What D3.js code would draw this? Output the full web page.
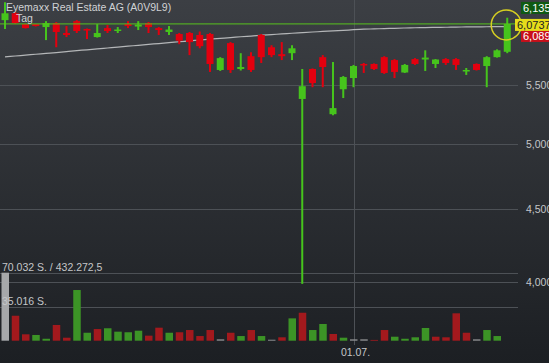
<!DOCTYPE html>
<html>
<head>
<meta charset="utf-8">
<script src="https://cdn.jsdelivr.net/npm/d3@7"></script>
<style>
    body { margin: 0; background: #2a2d31; overflow: hidden; }
    svg text { font-family: "Liberation Sans", Arial, sans-serif; }
</style>
</head>
<body>
<div id="chart"></div>
<script>
// Chart data (daily candles)
var title = "Eyemaxx Real Estate AG (A0V9L9)";
var period = "Tag";
var dates = ["14.05.", "15.05.", "16.05.", "17.05.", "20.05.", "21.05.", "22.05.", "23.05.", "24.05.", "27.05.",
    "28.05.", "29.05.", "30.05.", "31.05.", "03.06.", "04.06.", "05.06.", "06.06.", "07.06.", "10.06.",
    "11.06.", "12.06.", "13.06.", "14.06.", "17.06.", "18.06.", "19.06.", "20.06.", "21.06.", "24.06.",
    "25.06.", "26.06.", "27.06.", "28.06.", "01.07.", "02.07.", "03.07.", "04.07.", "05.07.", "08.07.",
    "09.07.", "10.07.", "11.07.", "12.07.", "15.07.", "16.07.", "17.07.", "18.07.", "19.07.", "22.07."];
var opens = [6.111, 6.179, 6.072, 6.072, 6.043, 6.082, 5.985, 6.101, 6.024, 5.946,
    6.033, 6.009, 6.072, 6.048, 6.082, 6.033, 5.995, 5.975, 5.985, 5.966,
    5.975, 5.638, 5.888, 5.647, 5.765, 5.966, 5.849, 5.784, 5.793, 5.380,
    5.647, 5.756, 5.249, 5.465, 5.565, 5.693, 5.693, 5.756, 5.729, 5.615,
    5.738, 5.734, 5.693, 5.738, 5.738, 5.624, 5.693, 5.674, 5.756, 5.806];
var highs = [6.290, 6.189, 6.077, 6.072, 6.101, 6.092, 6.053, 6.111, 6.029, 6.072,
    6.063, 6.043, 6.101, 6.101, 6.092, 6.043, 6.053, 5.985, 5.995, 6.000,
    5.985, 5.756, 5.898, 5.793, 5.802, 5.975, 5.868, 5.898, 5.868, 5.647,
    5.652, 5.775, 5.711, 5.583, 5.684, 5.702, 5.698, 5.765, 5.738, 5.693,
    5.747, 5.820, 5.738, 5.747, 5.747, 5.656, 5.698, 5.765, 5.829, 6.135];
var lows = [6.024, 6.072, 6.029, 6.048, 5.917, 5.849, 5.946, 5.985, 5.927, 5.941,
    5.985, 5.985, 6.033, 6.014, 5.985, 5.966, 5.966, 5.878, 5.775, 5.839,
    5.620, 5.629, 5.611, 5.633, 5.620, 5.702, 5.756, 5.729, 5.729, 3.990,
    5.483, 5.483, 5.240, 5.388, 5.483, 5.611, 5.638, 5.602, 5.565, 5.611,
    5.684, 5.629, 5.656, 5.684, 5.638, 5.593, 5.633, 5.483, 5.752, 5.793];
var closes = [6.179, 6.082, 6.033, 6.053, 6.082, 5.995, 5.966, 6.004, 6.009, 5.985,
    6.004, 6.019, 6.053, 6.067, 6.043, 6.014, 6.019, 5.912, 5.898, 5.859,
    5.693, 5.747, 5.638, 5.665, 5.638, 5.756, 5.775, 5.765, 5.839, 5.492,
    5.520, 5.665, 5.301, 5.574, 5.674, 5.679, 5.647, 5.611, 5.620, 5.684,
    5.693, 5.752, 5.734, 5.702, 5.684, 5.638, 5.638, 5.756, 5.820, 6.0737];
var avgLine = [5.759, 5.767, 5.775, 5.783, 5.791, 5.799, 5.808, 5.817, 5.825, 5.834,
    5.842, 5.850, 5.859, 5.867, 5.876, 5.884, 5.893, 5.901, 5.910, 5.918,
    5.927, 5.934, 5.941, 5.949, 5.956, 5.963, 5.970, 5.976, 5.983, 5.989,
    5.995, 6.000, 6.006, 6.011, 6.017, 6.022, 6.025, 6.028, 6.031, 6.034,
    6.036, 6.038, 6.040, 6.041, 6.043, 6.044, 6.045, 6.046, 6.047, 6.048];
var volumes = [70032, 25700, 6600, 5900, 2000, 16200, 3100, 52200, 8200, 12000,
    12800, 9300, 8700, 10300, 5200, 13400, 8200, 8700, 11000, 4800,
    11000, 1400, 8200, 4800, 11000, 4800, 1000, 3500, 23000, 28800,
    11000, 17200, 6900, 3100, 1400, 1400, 800, 11000, 4100, 2000,
    3500, 13100, 4100, 3500, 28200, 8200, 1400, 11000, 4800, 0];
// u = up, d = down, n = unchanged
var volTrend = ["n", "d", "d", "u", "u", "d", "d", "u", "u", "d",
    "u", "u", "u", "u", "d", "d", "u", "d", "d", "d",
    "d", "n", "d", "u", "d", "u", "n", "d", "u", "d",
    "u", "u", "d", "u", "n", "n", "d", "d", "u", "u",
    "u", "u", "d", "d", "d", "d", "n", "u", "u", "u"];
var priceTicks = [5.5, 5.0, 4.5, 4.0];
var volTicks = [35016, 70032];
var dateTicks = ["01.07."];
var lastPrice = 6.0737;
var askPrice = 6.135;
var bidPrice = 6.089;
var turnover = "432.272,5";

// chart parameters
var svgWidth = 549;
var svgHeight = 363;

var de = d3.formatLocale({ decimal: ",", thousands: ".", grouping: [3], currency: ["", " €"] });
var fmtPrice = de.format(",.3f");
var fmtVol = de.format(",d");

var svg = d3.select("#chart")
    .append("svg")
    .attr("width", svgWidth)
    .attr("height", svgHeight);

// background gradient
var grad = svg.append("defs").append("linearGradient")
    .attr("id", "bg")
    .attr("x1", 0).attr("y1", 0).attr("x2", 0).attr("y2", 1);
grad.append("stop").attr("offset", "0%").attr("stop-color", "#3c3f44");
grad.append("stop").attr("offset", "100%").attr("stop-color", "#1c1f23");

svg.append("rect")
    .attr("width", svgWidth)
    .attr("height", svgHeight)
    .attr("fill", "url(#bg)");

// Step 1: scales
var xScale = d3.scalePoint()
    .domain(dates)
    .range([5, 507.25]);

var yScale = d3.scaleLog()
    .domain([4, 5.5])
    .range([282.3, 85.3]);

var yVol = d3.scaleLinear()
    .domain([0, 70032])
    .range([340.7, 272.7]);

var gridRight = 518;

// Step 2: grid lines
svg.append("g")
    .selectAll("line")
    .data(priceTicks)
    .enter()
    .append("line")
    .attr("x1", 0)
    .attr("x2", gridRight)
    .attr("y1", d => Math.round(yScale(d)) + 0.5)
    .attr("y2", d => Math.round(yScale(d)) + 0.5)
    .attr("stroke", "#4d5156")
    .attr("stroke-width", 1);

svg.append("g")
    .selectAll("line")
    .data(volTicks)
    .enter()
    .append("line")
    .attr("x1", 0)
    .attr("x2", gridRight)
    .attr("y1", d => Math.round(yVol(d)) + 0.5)
    .attr("y2", d => Math.round(yVol(d)) + 0.5)
    .attr("stroke", "#4d5156")
    .attr("stroke-width", 1);

svg.append("g")
    .selectAll("line")
    .data(dateTicks)
    .enter()
    .append("line")
    .attr("x1", d => Math.round(xScale(d)) + 0.5)
    .attr("x2", d => Math.round(xScale(d)) + 0.5)
    .attr("y1", 0)
    .attr("y2", 345)
    .attr("stroke", "#4d5156")
    .attr("stroke-width", 1);

// Step 3: volume bars
var volColor = { u: "#3c9426", d: "#a3191d", n: "#8e9092" };
svg.append("g")
    .selectAll("rect")
    .data(dates)
    .enter()
    .append("rect")
    .attr("x", d => xScale(d) - 3.5)
    .attr("width", 7.5)
    .attr("y", (d, i) => yVol(volumes[i]))
    .attr("height", (d, i) => yVol(0) - yVol(volumes[i]))
    .attr("fill", (d, i) => (i == 0 ? "#a6a8aa" : volColor[volTrend[i]]));

// Step 4: axis labels (drawn over the bars)
svg.append("g")
    .selectAll("text")
    .data(priceTicks)
    .enter()
    .append("text")
    .attr("x", 526)
    .attr("y", d => yScale(d) + 4)
    .attr("font-size", "10.5px")
    .attr("fill", "#c4c6c8")
    .text(d => fmtPrice(d));

svg.append("text")
    .attr("x", 2)
    .attr("y", yVol(volTicks[1]) - 2)
    .attr("font-size", "10.5px")
    .attr("fill", "#c4c6c8")
    .text(fmtVol(volTicks[1]) + " S. / " + turnover);

svg.append("text")
    .attr("x", 2)
    .attr("y", yVol(volTicks[0]) - 2)
    .attr("font-size", "10.5px")
    .attr("fill", "#c4c6c8")
    .text(fmtVol(volTicks[0]) + " S.");

svg.append("g")
    .selectAll("text")
    .data(dateTicks)
    .enter()
    .append("text")
    .attr("x", d => xScale(d) + 2)
    .attr("y", 356)
    .attr("text-anchor", "middle")
    .attr("font-size", "10.5px")
    .attr("fill", "#c4c6c8")
    .text(d => d);

// Step 5: moving average line
var line = d3.line()
    .x((d, i) => xScale(dates[i]))
    .y(d => yScale(d))
    .curve(d3.curveMonotoneX);

svg.append("path")
    .datum(avgLine)
    .attr("d", line)
    .attr("fill", "none")
    .attr("stroke", "#b4b6b8")
    .attr("stroke-width", 1.2);

// Step 6: candles
var upColor = "#46c41c";
var downColor = "#e3000f";
var candles = svg.append("g")
    .selectAll("g")
    .data(dates)
    .enter()
    .append("g")
    .attr("fill", (d, i) => (closes[i] >= opens[i] ? upColor : downColor));

candles.append("rect")
    .attr("x", d => xScale(d) - 1)
    .attr("width", 2)
    .attr("y", (d, i) => yScale(highs[i]))
    .attr("height", (d, i) => yScale(lows[i]) - yScale(highs[i]));

candles.append("rect")
    .attr("x", d => xScale(d) - 3.5)
    .attr("width", 7)
    .attr("y", (d, i) => yScale(Math.max(opens[i], closes[i])))
    .attr("height", (d, i) => Math.max(1.5, yScale(Math.min(opens[i], closes[i])) - yScale(Math.max(opens[i], closes[i]))));

// Step 7: last price line
svg.append("line")
    .attr("x1", 0)
    .attr("x2", gridRight)
    .attr("y1", yScale(lastPrice))
    .attr("y2", yScale(lastPrice))
    .attr("stroke", "#58c21e")
    .attr("stroke-width", 1);

// highlight of the last candle
svg.append("circle")
    .attr("cx", xScale(dates[dates.length - 1]) - 1)
    .attr("cy", yScale(lastPrice) + 1)
    .attr("r", 15)
    .attr("fill", "none")
    .attr("stroke", "#d6cf22")
    .attr("stroke-width", 1.5);

// Step 8: price boxes on the right
var yLast = yScale(lastPrice);
var boxes = [
    { v: askPrice, txt: de.format(".3f")(askPrice), y: yLast - 22, x: 521, bg: "#0f5a12", fg: "#ffffff" },
    { v: bidPrice, txt: de.format(".3f")(bidPrice), y: yLast + 6, x: 521, bg: "#c8101a", fg: "#ffffff" },
    { v: lastPrice, txt: de.format(".4f")(lastPrice), y: yLast - 5, x: 515, bg: "#e6dc1a", fg: "#222222" }
];
var boxG = svg.append("g")
    .selectAll("g")
    .data(boxes)
    .enter()
    .append("g");

boxG.append("rect")
    .attr("x", d => d.x)
    .attr("y", d => d.y)
    .attr("width", d => svgWidth - d.x)
    .attr("height", 12)
    .attr("fill", d => d.bg);

boxG.append("text")
    .attr("x", d => d.x + 2)
    .attr("y", d => d.y + 10)
    .attr("font-size", "11px")
    .attr("fill", d => d.fg)
    .text(d => d.txt);

// Step 9: title
svg.append("text")
    .attr("x", 6)
    .attr("y", 10.5)
    .attr("font-size", "10.5px")
    .attr("fill", "#d0d2d4")
    .text(title);

svg.append("text")
    .attr("x", 16)
    .attr("y", 22)
    .attr("font-size", "10.5px")
    .attr("fill", "#d0d2d4")
    .text(period);
</script>
</body>
</html>
